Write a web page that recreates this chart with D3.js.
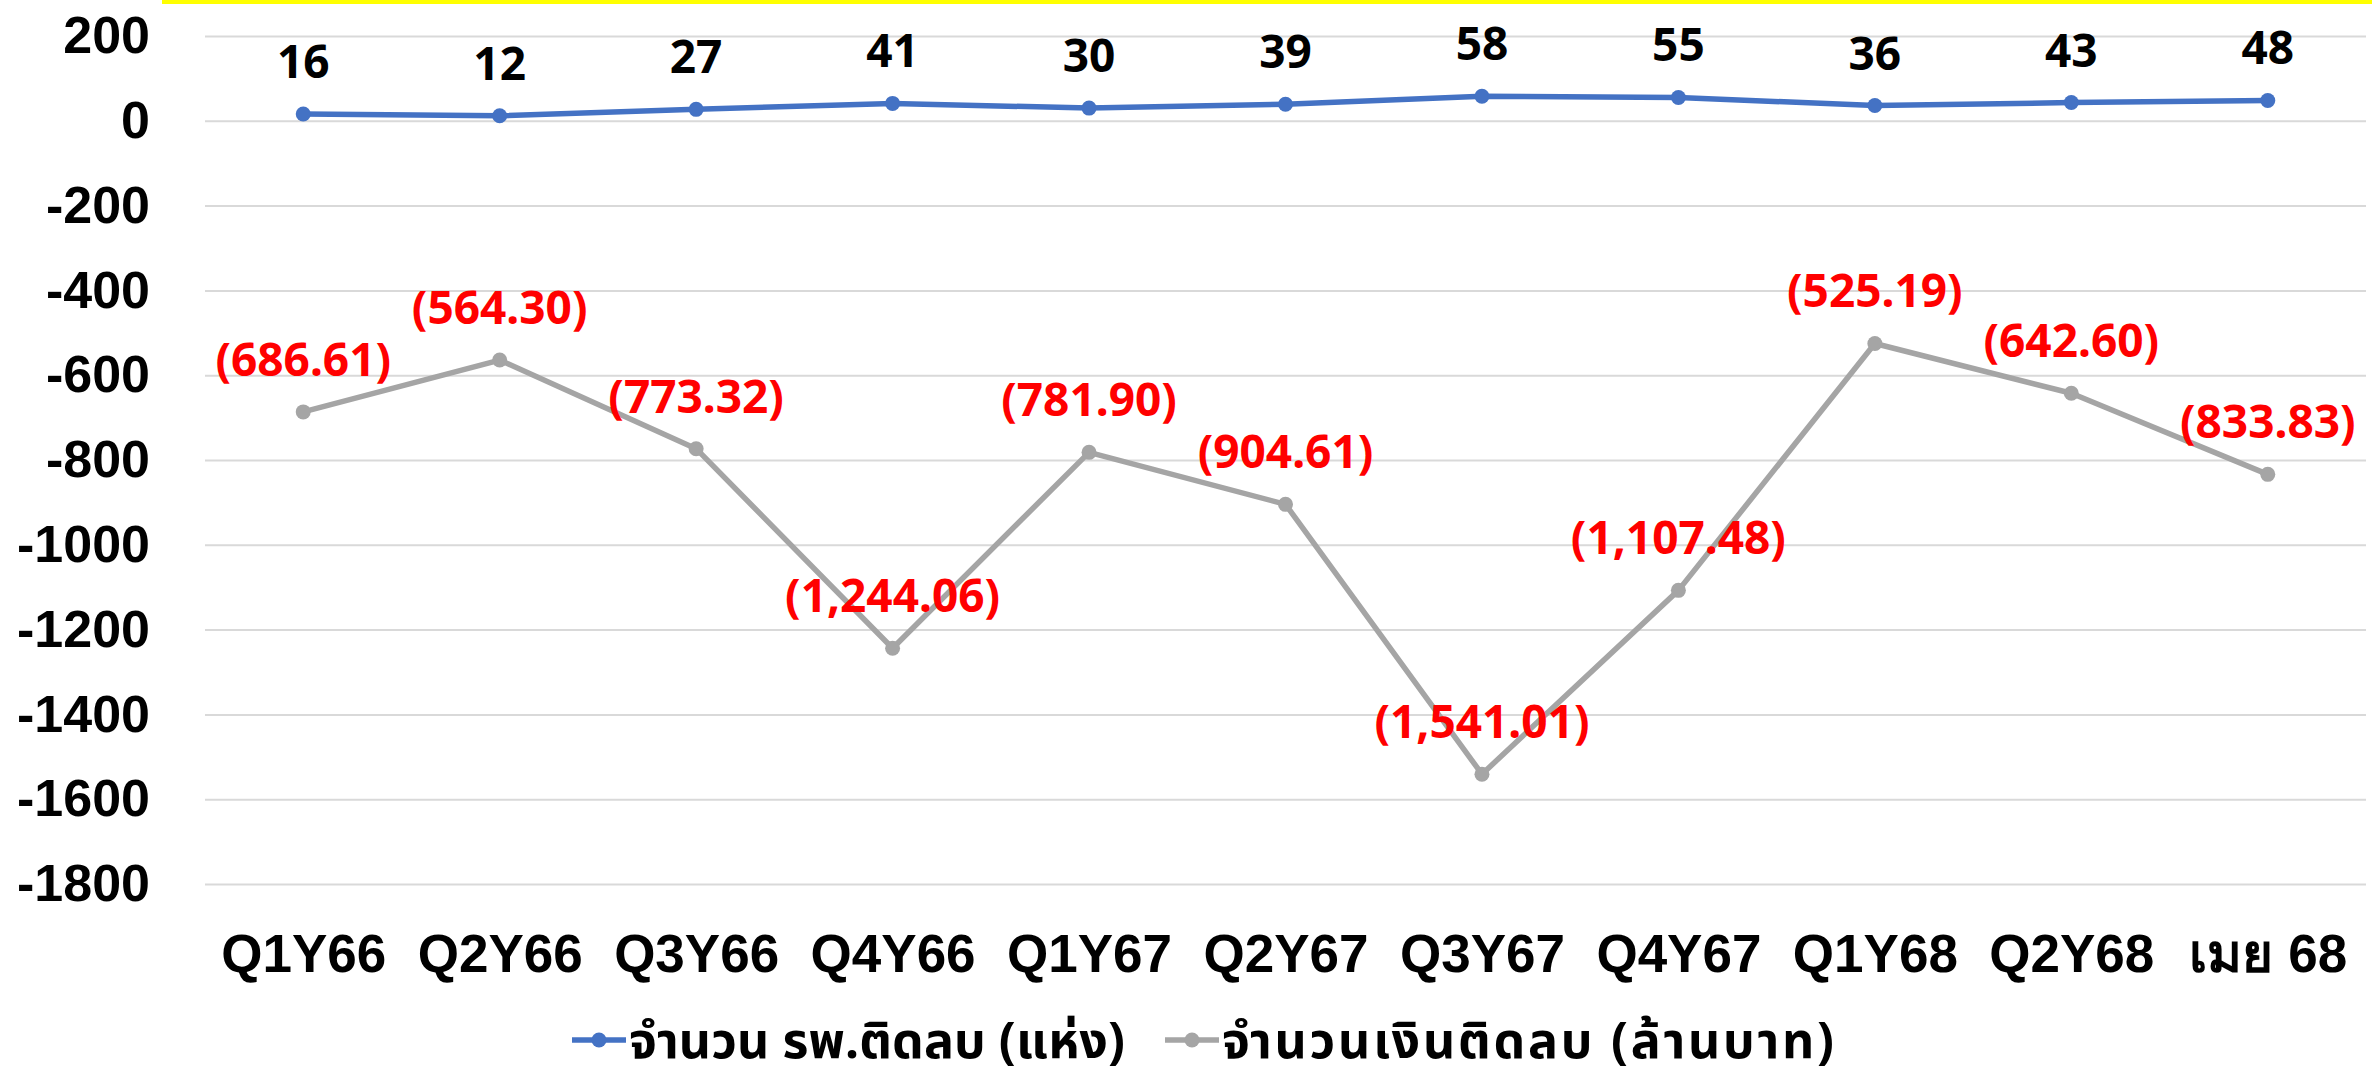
<!DOCTYPE html>
<html>
<head>
<meta charset="utf-8">
<style>
  body { margin: 0; background: #fff; }
  svg { display: block; font-family: "Noto Sans", "Noto Sans Thai", sans-serif; font-weight: 700; }
</style>
</head>
<body>
<div class="container"></div>
<script src="https://d3js.org/d3.v7.min.js"></script>
<script>
  // data
  var categories = ['Q1Y66', 'Q2Y66', 'Q3Y66', 'Q4Y66', 'Q1Y67', 'Q2Y67', 'Q3Y67', 'Q4Y67', 'Q1Y68', 'Q2Y68', 'เมย 68'];
  var hospitals = [16, 12, 27, 41, 30, 39, 58, 55, 36, 43, 48];
  var money = [-686.61, -564.30, -773.32, -1244.06, -781.90, -904.61, -1541.01, -1107.48, -525.19, -642.60, -833.83];
  var yTicks = [200, 0, -200, -400, -600, -800, -1000, -1200, -1400, -1600, -1800];
  var seriesNames = ['จำนวน รพ.ติดลบ (แห่ง)', 'จำนวนเงินติดลบ (ล้านบาท)'];

  var W = 2372, H = 1070,
      plotL = 205, plotR = 2366, plotT = 36, plotB = 884;

  var svg = d3.select('.container').append('svg')
      .attr('width', W)
      .attr('height', H);

  svg.append('rect').attr('width', W).attr('height', H).attr('fill', '#fff');

  // yellow strip at the top
  svg.append('rect')
      .attr('x', 162).attr('y', 0)
      .attr('width', W - 162).attr('height', 4)
      .attr('fill', '#ffff00');

  var x = d3.scalePoint().domain(categories).range([plotL, plotR]).padding(0.5);
  var y = d3.scaleLinear().domain([-1800, 200]).range([plotB, plotT]);

  // gridlines + y labels
  var yAxis = svg.append('g')
      .attr('transform', 'translate(' + plotL + ',0)')
      .call(d3.axisLeft(y).tickValues(yTicks).tickSize(-(plotR - plotL)).tickFormat(function(d) { return String(d); }).tickPadding(55));
  yAxis.select('.domain').remove();
  yAxis.selectAll('line').attr('stroke', '#d9d9d9').attr('stroke-width', 2);
  yAxis.selectAll('text')
      .attr('font-size', 52)
      .attr('font-family', 'inherit')
      .attr('font-weight', 700)
      .attr('fill', '#000');

  // x labels
  var xAxis = svg.append('g')
      .attr('transform', 'translate(0,' + plotB + ')')
      .call(d3.axisBottom(x).tickSize(0).tickPadding(50));
  xAxis.select('.domain').remove();
  xAxis.selectAll('text')
      .attr('font-size', 53)
      .attr('font-family', 'inherit')
      .attr('font-weight', 700)
      .attr('fill', '#000');

  var fmtMoney = d3.format('(,.2f');

  function drawSeries(values, color, labelColor, labelFmt) {
    var line = d3.line()
        .x(function(d, i) { return x(categories[i]); })
        .y(function(d) { return y(d); });
    svg.append('path')
        .datum(values)
        .attr('d', line)
        .attr('fill', 'none')
        .attr('stroke', color)
        .attr('stroke-width', 5.5)
        .attr('stroke-linejoin', 'round');
    svg.append('g').selectAll('circle')
        .data(values)
        .join('circle')
        .attr('cx', function(d, i) { return x(categories[i]); })
        .attr('cy', function(d) { return y(d); })
        .attr('r', 7.5)
        .attr('fill', color);
    svg.append('g').selectAll('text')
        .data(values)
        .join('text')
        .attr('x', function(d, i) { return x(categories[i]); })
        .attr('y', function(d) { return y(d) - 36; })
        .attr('text-anchor', 'middle')
        .attr('font-size', 46)
        .attr('fill', labelColor)
        .text(labelFmt);
  }

  drawSeries(money, '#a5a5a5', '#ff0000', function(d) { return fmtMoney(d); });
  drawSeries(hospitals, '#4472c4', '#000', function(d) { return d; });

  // legend
  var legend = svg.append('g').attr('transform', 'translate(0,1040)');
  var legendItems = [
    { name: seriesNames[0], color: '#4472c4', x: 572, w: 496 },
    { name: seriesNames[1], color: '#a5a5a5', x: 1165, w: 612 }
  ];
  legendItems.forEach(function(it) {
    legend.append('line')
        .attr('x1', it.x).attr('x2', it.x + 54)
        .attr('y1', 0).attr('y2', 0)
        .attr('stroke', it.color).attr('stroke-width', 5.5);
    legend.append('circle')
        .attr('cx', it.x + 27).attr('cy', 0).attr('r', 7.5)
        .attr('fill', it.color);
    legend.append('text')
        .attr('x', it.x + 57)
        .attr('y', 0)
        .attr('dy', '0.35em')
        .attr('font-size', 50)
        .attr('textLength', it.w)
        .attr('lengthAdjust', 'spacing')
        .attr('fill', '#000')
        .text(it.name);
  });
</script>
</body>
</html>
